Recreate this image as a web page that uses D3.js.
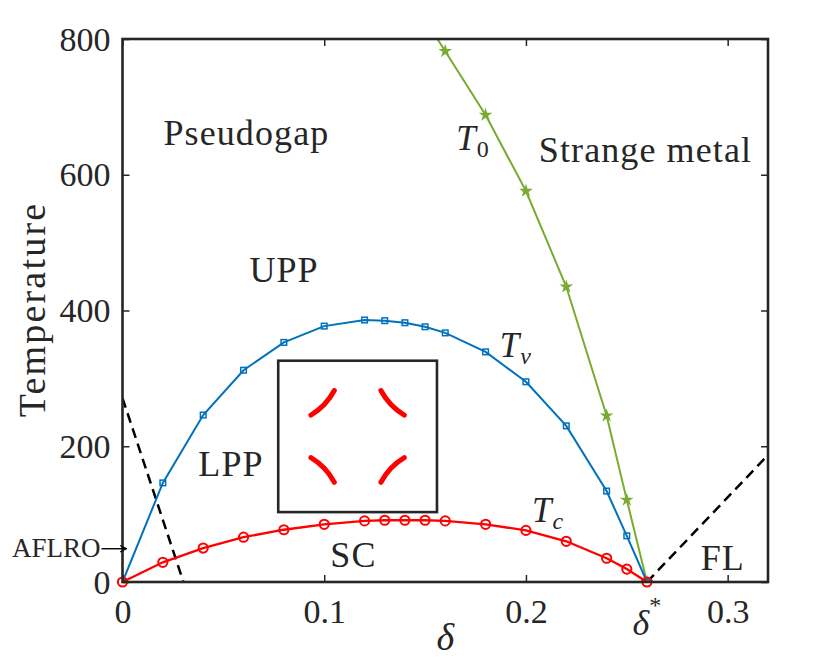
<!DOCTYPE html>
<html>
<head>
<meta charset="utf-8">
<script src="https://cdn.jsdelivr.net/npm/d3@7"></script>
<style>
  body { margin: 0; background: #fff; }
  text { font-family: "Liberation Serif", "Times New Roman", serif; fill: #262626; }
</style>
</head>
<body>
<div id="chart"></div>
<script>
// doping values and the three crossover temperatures
const deltaVals = [0, 0.02, 0.04, 0.06, 0.08, 0.1, 0.12, 0.13, 0.14, 0.15, 0.16, 0.18, 0.2, 0.22, 0.24, 0.25, 0.26];
const tvVals = [0, 146, 246, 312, 353, 377, 386, 385, 382, 376, 367, 339, 295, 230, 134, 68, 0];
const tcVals = [0, 29, 50, 66, 77, 85, 90, 91, 91, 91, 90, 85, 76, 60, 35, 19, 0];
const delta0 = [0.14, 0.16, 0.18, 0.2, 0.22, 0.24, 0.25, 0.26];
const t0Vals = [875, 782, 688, 576, 435, 245, 121, 0];

// dashed boundaries (AFLRO on the left, FL on the right)
const aflroLine = [[0, 271], [0.0302, 0]];
const flLine = [[0.26, 0], [0.32, 187]];

const xTicks = [0, 0.1, 0.2, 0.3];
const yTicks = [0, 200, 400, 600, 800];

// region labels [text, delta, T]
const regionLabels = [
  ['Pseudogap', 0.0203, 644],
  ['Strange metal', 0.2064, 619],
  ['UPP', 0.0629, 442],
  ['LPP', 0.0376, 156],
  ['SC', 0.103, 22],
  ['FL', 0.2866, 18]
];
// curve labels [subscript, delta, T]
const curveLabels = [['0', 0.1655, 636], ['v', 0.187, 331], ['c', 0.203, 88]];

// inset box corners (delta, T) and arc angles in degrees
const insetBox = { x0: 0.0772, x1: 0.1559, t0: 103, t1: 326 };
const arcAngles = [[28, 59], [121, 152], [-59, -28], [208, 239]];

const W = 830, H = 661;
const margin = { top: 39, right: 62, bottom: 79, left: 122.5 };
const width = W - margin.left - margin.right;
const height = H - margin.top - margin.bottom;

const svg = d3.select('#chart').append('svg')
    .attr('width', W)
    .attr('height', H);

const g = svg.append('g')
    .attr('transform', 'translate(' + margin.left + ',' + margin.top + ')');

const x = d3.scaleLinear().domain([0, 0.32]).range([0, width]);
const y = d3.scaleLinear().domain([0, 800]).range([height, 0]);

g.append('clipPath').attr('id', 'clip')
  .append('rect').attr('width', width).attr('height', height);

svg.append('defs').append('marker')
    .attr('id', 'arrow')
    .attr('viewBox', '0 0 10 10')
    .attr('refX', 9).attr('refY', 5)
    .attr('markerWidth', 8).attr('markerHeight', 8)
    .attr('markerUnits', 'userSpaceOnUse')
    .attr('orient', 'auto')
  .append('path')
    .attr('d', 'M1,1 L9,5 L1,9')
    .attr('fill', 'none')
    .attr('stroke', '#000')
    .attr('stroke-width', 1.4);

// axes with inward ticks
const axisColor = '#262626';
function styleAxis(sel) {
    sel.select('.domain').remove();
    sel.selectAll('line').attr('stroke', axisColor).attr('stroke-width', 1.5);
    sel.selectAll('text').style('font-size', '34px').attr('fill', axisColor);
}
g.append('g')
    .attr('transform', 'translate(0,' + height + ')')
    .call(d3.axisBottom(x).tickValues(xTicks).tickSizeInner(-7).tickSizeOuter(0).tickPadding(17)
        .tickFormat(d => d === 0 ? '0' : d3.format('.1f')(d)))
    .call(styleAxis);
g.append('g')
    .call(d3.axisTop(x).tickValues(xTicks).tickSizeInner(-7).tickSizeOuter(0).tickFormat(''))
    .call(styleAxis);
g.append('g')
    .call(d3.axisLeft(y).tickValues(yTicks).tickSizeInner(-7).tickSizeOuter(0).tickPadding(12))
    .call(styleAxis)
    .selectAll('text').attr('dy', '0.33em');
g.append('g')
    .attr('transform', 'translate(' + width + ',0)')
    .call(d3.axisRight(y).tickValues(yTicks).tickSizeInner(-7).tickSizeOuter(0).tickFormat(''))
    .call(styleAxis);

const plot = g.append('g').attr('clip-path', 'url(#clip)');

const line = d3.line().x(d => x(d[0])).y(d => y(d[1]));

// dashed lines
[aflroLine, flLine].forEach(pts => {
    plot.append('path')
        .attr('d', line(pts))
        .attr('fill', 'none')
        .attr('stroke', '#000')
        .attr('stroke-width', 2.5)
        .attr('stroke-dasharray', '10,6');
});

// T0 (green stars)
const t0Data = delta0.map((d, i) => [d, t0Vals[i]]);
plot.append('path')
    .attr('d', line(t0Data))
    .attr('fill', 'none')
    .attr('stroke', '#77AC30')
    .attr('stroke-width', 2);
plot.selectAll('.star')
    .data(t0Data.filter(d => d[1] <= 800))
    .enter().append('path')
    .attr('class', 'star')
    .attr('transform', d => 'translate(' + x(d[0]) + ',' + y(d[1]) + ')')
    .attr('d', d3.symbol().type(d3.symbolStar).size(58))
    .attr('fill', '#77AC30');

// Tv (blue squares)
const tvData = deltaVals.map((d, i) => [d, tvVals[i]]);
plot.append('path')
    .attr('d', line(tvData))
    .attr('fill', 'none')
    .attr('stroke', '#0072BD')
    .attr('stroke-width', 2);
plot.selectAll('.sq')
    .data(tvData)
    .enter().append('rect')
    .attr('class', 'sq')
    .attr('x', d => x(d[0]) - 2.8)
    .attr('y', d => y(d[1]) - 2.8)
    .attr('width', 5.6)
    .attr('height', 5.6)
    .attr('fill', 'none')
    .attr('stroke', '#0072BD')
    .attr('stroke-width', 1.5);

// Tc (red circles)
const tcData = deltaVals.map((d, i) => [d, tcVals[i]]);
g.append('path')
    .attr('d', line(tcData))
    .attr('fill', 'none')
    .attr('stroke', '#FF0000')
    .attr('stroke-width', 2.3);
g.selectAll('.circ')
    .data(tcData)
    .enter().append('circle')
    .attr('class', 'circ')
    .attr('cx', d => x(d[0]))
    .attr('cy', d => y(d[1]))
    .attr('r', 4.6)
    .attr('fill', 'none')
    .attr('stroke', '#FF0000')
    .attr('stroke-width', 2);

// frame
g.append('rect')
    .attr('width', width)
    .attr('height', height)
    .attr('fill', 'none')
    .attr('stroke', axisColor)
    .attr('stroke-width', 2.6);

// inset with the four arcs
const bx0 = x(insetBox.x0), bx1 = x(insetBox.x1), by0 = y(insetBox.t1), by1 = y(insetBox.t0);
g.append('rect')
    .attr('x', bx0).attr('y', by0)
    .attr('width', bx1 - bx0).attr('height', by1 - by0)
    .attr('fill', '#fff')
    .attr('stroke', axisColor)
    .attr('stroke-width', 2.6);
const corners = [[bx0, by0], [bx1, by0], [bx0, by1], [bx1, by1]];
const arcR = 0.4 * (bx1 - bx0);
corners.forEach((c, i) => {
    const p = d3.path();
    const a0 = arcAngles[i][0] * Math.PI / 180, a1 = arcAngles[i][1] * Math.PI / 180;
    p.moveTo(c[0] + arcR * Math.cos(a0), c[1] + arcR * Math.sin(a0));
    p.arc(c[0], c[1], arcR, a0, a1);
    g.append('path')
        .attr('d', p.toString())
        .attr('fill', 'none')
        .attr('stroke', '#FF0000')
        .attr('stroke-width', 5)
        .attr('stroke-linecap', 'round');
});

// region labels
g.selectAll('.region')
    .data(regionLabels)
    .enter().append('text')
    .attr('class', 'region')
    .attr('x', d => x(d[1]))
    .attr('y', d => y(d[2]))
    .style('font-size', '36px')
    .style('letter-spacing', '1.1px')
    .attr('fill', '#000')
    .text(d => d[0]);

// T labels
curveLabels.forEach(d => {
    const t = g.append('text')
        .attr('x', x(d[1]))
        .attr('y', y(d[2]))
        .attr('fill', '#000')
        .style('font-size', '35px')
        .style('font-style', 'italic');
    t.append('tspan').text('T');
    t.append('tspan').attr('dy', 7).attr('dx', 1).style('font-size', '24px')
        .style('font-style', d[0] === '0' ? 'normal' : 'italic').text(d[0]);
});

// AFLRO arrow label
g.append('text')
    .attr('x', -22)
    .attr('y', y(37))
    .attr('text-anchor', 'end')
    .attr('fill', '#000')
    .style('font-size', '27px')
    .text('AFLRO');
g.append('line')
    .attr('x1', -21).attr('x2', 4)
    .attr('y1', y(49)).attr('y2', y(49))
    .attr('stroke', '#000')
    .attr('stroke-width', 1.4)
    .attr('marker-end', 'url(#arrow)');

// delta* under the axis
const ds = g.append('text')
    .attr('x', x(0.26))
    .attr('y', height + 53)
    .attr('text-anchor', 'middle')
    .attr('fill', '#000')
    .style('font-size', '36px');
ds.append('tspan').style('font-style', 'italic').text('\u03b4');
ds.append('tspan').attr('dy', -22).style('font-size', '24px').text('*');

// axis titles
g.append('text')
    .attr('x', x(0.16))
    .attr('y', height + 68)
    .attr('text-anchor', 'middle')
    .attr('fill', axisColor)
    .style('font-size', '38px')
    .style('font-style', 'italic')
    .text('\u03b4');

g.append('text')
    .attr('transform', 'translate(' + (-78) + ',' + (height / 2 - 1) + ') rotate(-90)')
    .attr('text-anchor', 'middle')
    .attr('fill', axisColor)
    .style('font-size', '38px')
    .style('letter-spacing', '2.2px')
    .text('Temperature');
</script>
</body>
</html>
